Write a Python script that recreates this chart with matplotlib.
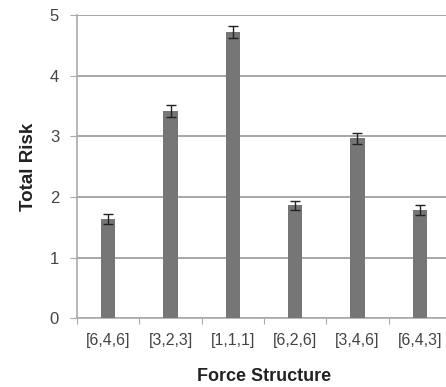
import numpy as np
import matplotlib.pyplot as plt

plt.rcParams['font.family'] = ['Liberation Sans', 'DejaVu Sans']

structures = ["[6,4,6]", "[3,2,3]", "[1,1,1]", "[6,2,6]", "[3,4,6]", "[6,4,3]"]
risk = [1.63, 3.42, 4.72, 1.86, 2.97, 1.78]
risk_err = [0.08, 0.10, 0.10, 0.08, 0.09, 0.08]

fig = plt.figure(figsize=(4.46, 3.87), dpi=100)
ax = fig.add_axes([0.173, 0.178, 0.838, 0.783])

x = np.arange(len(structures))
ax.bar(x, risk, width=0.23, color="#767676", zorder=3,
       yerr=risk_err, capsize=3.5,
       error_kw=dict(ecolor="#222222", elinewidth=1, capthick=1))

ax.set_xlim(-0.5, len(structures) - 0.5)
ax.set_ylim(0, 5)
ax.set_yticks(range(6))
ax.yaxis.grid(True, color="#a8a8a8", linewidth=1.4, zorder=0)

# ticks at category boundaries, labels centred under bars
ax.set_xticks(np.arange(-0.5, len(structures), 1.0))
ax.set_xticklabels([])
ax.set_xticks(x, minor=True)
ax.set_xticklabels(structures, minor=True)
ax.tick_params(axis="x", which="minor", length=0, pad=11, labelsize=11.5, labelcolor="#444444")
ax.tick_params(axis="x", which="major", length=4, color="#aaaaaa")
ax.tick_params(axis="y", length=5, color="#aaaaaa", pad=8, labelsize=12, labelcolor="#444444")

for s in ["top", "right"]:
    ax.spines[s].set_visible(False)
for s in ["left", "bottom"]:
    ax.spines[s].set_color("#aaaaaa")
    ax.spines[s].set_linewidth(1.2)

ax.set_xlabel("Force Structure", fontsize=13, fontweight="bold", color="#222222", labelpad=14)
ax.set_ylabel("Total Risk", fontsize=13.5, fontweight="bold", color="#222222", labelpad=9)

fig.savefig("out.png", dpi=100)
